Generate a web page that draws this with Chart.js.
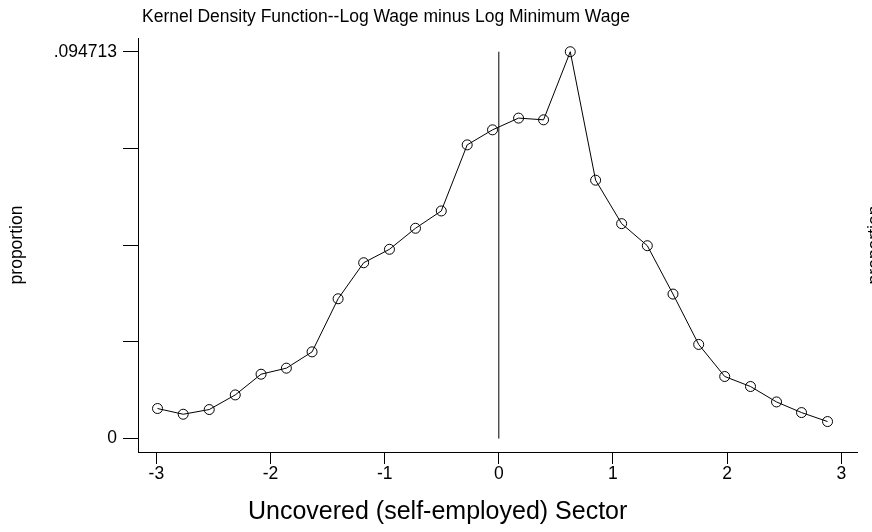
<!DOCTYPE html>
<html>
<head>
<meta charset="utf-8">
<script src="https://cdn.jsdelivr.net/npm/chart.js@4.4.1/dist/chart.umd.min.js"></script>
<style>
html,body{margin:0;padding:0;background:#fff;}
#wrap{width:872px;height:532px;position:relative;}
</style>
</head>
<body>
<div id="wrap"><canvas id="c" width="872" height="532"></canvas></div>
<script>
// ---- Data ----
const chartTitle = "Kernel Density Function--Log Wage minus Log Minimum Wage";
const xAxisTitle = "Uncovered (self-employed) Sector";
const yAxisTitle = "proportion";

const xValues = [-2.990, -2.765, -2.537, -2.309, -2.083, -1.861, -1.636, -1.408, -1.184,
                 -0.958, -0.730, -0.504, -0.277, -0.055, 0.173, 0.392, 0.626, 0.848,
                 1.076, 1.301, 1.526, 1.751, 1.979, 2.205, 2.433, 2.652, 2.880];
const densityValues = [0.00736, 0.00596, 0.00711, 0.01069, 0.01576, 0.01724, 0.02123, 0.03423, 0.04305,
                       0.04634, 0.05149, 0.05573, 0.07191, 0.07559, 0.07846, 0.07804, 0.094713, 0.06326,
                       0.05262, 0.04722, 0.03538, 0.02305, 0.01520, 0.01275, 0.00897, 0.00637, 0.00417];

const refLineX = [0, 0];
const refLineY = [0, 0.094713];

const xTickValues = [-3, -2, -1, 0, 1, 2, 3];
const xTickLabels = ["-3", "-2", "-1", "0", "1", "2", "3"];
const yTickValues = [0, 0.02368, 0.04736, 0.07103, 0.094713];
const yTickLabels = ["0", "", "", "", ".094713"];

const xRange = [-3.161, 3.138];
const yRange = [-0.003285, 0.098072];

// ---- Build ----
const FONT = '"Liberation Sans", Arial, Helvetica, sans-serif';
const points = xValues.map((x, i) => ({x: x, y: densityValues[i]}));
const refLine = refLineX.map((x, i) => ({x: x, y: refLineY[i]}));

const textPlugin = {
  id: 'texts',
  afterDraw(chart) {
    const ctx = chart.ctx;
    ctx.save();
    ctx.fillStyle = '#000';
    ctx.textBaseline = 'alphabetic';
    ctx.textAlign = 'left';
    ctx.font = '17.5px ' + FONT;
    ctx.fillText(chartTitle, 142, 22);
    ctx.font = '25px ' + FONT;
    ctx.fillText(xAxisTitle, 248, 519);
    ctx.font = '17.5px ' + FONT;
    ctx.textAlign = 'center';
    ctx.save();
    ctx.translate(21.5, 245);
    ctx.rotate(-Math.PI / 2);
    ctx.fillText(yAxisTitle, 0, 0);
    ctx.restore();
    ctx.save();
    ctx.translate(880, 245);
    ctx.rotate(-Math.PI / 2);
    ctx.fillText(yAxisTitle, 0, 0);
    ctx.restore();
    ctx.restore();
  }
};

new Chart(document.getElementById('c'), {
  type: 'scatter',
  data: {
    datasets: [
      {
        data: points,
        showLine: true,
        borderColor: '#000',
        borderWidth: 1,
        backgroundColor: 'rgba(0,0,0,0)',
        pointRadius: 5,
        pointBorderWidth: 1,
        pointBorderColor: '#000',
        pointBackgroundColor: 'rgba(0,0,0,0)',
        pointStyle: 'circle',
        tension: 0
      },
      {
        data: refLine,
        showLine: true,
        borderColor: '#000',
        borderWidth: 1,
        pointRadius: 0,
        tension: 0
      }
    ]
  },
  options: {
    responsive: false,
    devicePixelRatio: 1,
    animation: false,
    layout: { padding: { top: 38, right: 15, left: 0, bottom: 0 } },
    plugins: {
      legend: { display: false },
      title: { display: false },
      tooltip: { enabled: false }
    },
    scales: {
      x: {
        type: 'linear',
        min: xRange[0],
        max: xRange[1],
        afterBuildTicks: (s) => { s.ticks = xTickValues.map(v => ({value: v})); },
        afterFit: (s) => { s.height = 80; },
        ticks: {
          autoSkip: false,
          maxRotation: 0,
          padding: 0,
          color: '#000',
          font: { family: FONT, size: 17.5 },
          callback: (v) => { const i = xTickValues.indexOf(v); return i >= 0 ? xTickLabels[i] : ''; }
        },
        grid: { display: true, drawOnChartArea: false, drawTicks: true, tickLength: 12, color: '#000', lineWidth: 1 },
        border: { display: true, color: '#000', width: 1 }
      },
      y: {
        type: 'linear',
        min: yRange[0],
        max: yRange[1],
        afterBuildTicks: (s) => { s.ticks = yTickValues.map(v => ({value: v})); },
        afterFit: (s) => { s.width = 138; },
        ticks: {
          autoSkip: false,
          padding: 6,
          color: '#000',
          font: { family: FONT, size: 17.5 },
          callback: (v, i) => yTickLabels[i]
        },
        grid: { display: true, drawOnChartArea: false, drawTicks: true, tickLength: 15, color: '#000', lineWidth: 1 },
        border: { display: true, color: '#000', width: 1 }
      }
    }
  },
  plugins: [textPlugin]
});
</script>
</body>
</html>
